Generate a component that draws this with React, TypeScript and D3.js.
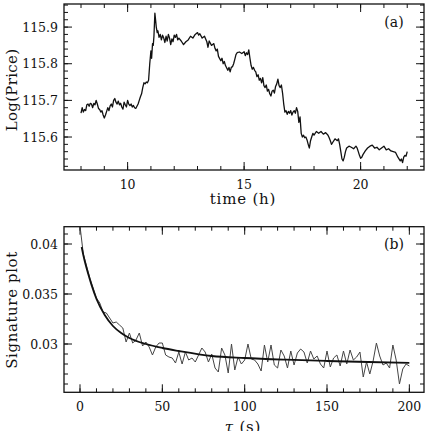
import * as d3 from 'd3'

// panel (a): intraday log-price, [time (h), log price]
const priceSeries: [number, number][] = [
  [8.0, 115.665], [8.05, 115.68], [8.1, 115.668], [8.15, 115.675], [8.2, 115.672], [8.25, 115.688],
  [8.3, 115.69], [8.35, 115.684], [8.4, 115.692], [8.45, 115.69], [8.5, 115.68], [8.55, 115.692],
  [8.6, 115.688], [8.65, 115.7], [8.7, 115.69], [8.75, 115.678], [8.8, 115.675], [8.85, 115.668],
  [8.9, 115.672], [8.95, 115.66], [9.0, 115.652], [9.05, 115.66], [9.1, 115.67], [9.15, 115.68],
  [9.2, 115.672], [9.25, 115.685], [9.3, 115.69], [9.35, 115.682], [9.4, 115.7], [9.45, 115.705],
  [9.5, 115.695], [9.55, 115.69], [9.6, 115.698], [9.65, 115.688], [9.7, 115.692], [9.75, 115.682],
  [9.8, 115.676], [9.85, 115.695], [9.9, 115.688], [9.95, 115.682], [10.0, 115.7], [10.05, 115.69],
  [10.1, 115.686], [10.15, 115.69], [10.2, 115.682], [10.25, 115.686], [10.3, 115.68], [10.35, 115.678],
  [10.4, 115.684], [10.45, 115.69], [10.5, 115.7], [10.55, 115.71], [10.6, 115.718], [10.65, 115.735],
  [10.7, 115.748], [10.75, 115.745], [10.8, 115.75], [10.85, 115.748], [10.9, 115.755], [10.95, 115.8],
  [11.0, 115.835], [11.03, 115.815], [11.07, 115.855], [11.1, 115.85], [11.13, 115.875], [11.17, 115.938],
  [11.2, 115.92], [11.23, 115.9], [11.27, 115.885], [11.3, 115.89], [11.35, 115.872], [11.4, 115.88],
  [11.45, 115.865], [11.5, 115.878], [11.55, 115.87], [11.6, 115.858], [11.65, 115.875], [11.7, 115.862],
  [11.75, 115.88], [11.8, 115.87], [11.85, 115.852], [11.9, 115.868], [11.95, 115.86], [12.0, 115.878],
  [12.05, 115.872], [12.1, 115.88], [12.15, 115.865], [12.2, 115.87], [12.3, 115.862], [12.4, 115.852],
  [12.5, 115.86], [12.6, 115.865], [12.7, 115.875], [12.8, 115.87], [12.9, 115.88], [13.0, 115.885],
  [13.05, 115.878], [13.1, 115.882], [13.2, 115.87], [13.3, 115.875], [13.4, 115.86], [13.45, 115.845],
  [13.5, 115.862], [13.6, 115.85], [13.7, 115.855], [13.75, 115.842], [13.8, 115.835], [13.85, 115.84],
  [13.9, 115.82], [14.0, 115.808], [14.05, 115.815], [14.1, 115.8], [14.15, 115.806], [14.2, 115.795],
  [14.3, 115.782], [14.35, 115.79], [14.4, 115.778], [14.45, 115.79], [14.5, 115.792], [14.55, 115.8],
  [14.6, 115.812], [14.65, 115.825], [14.7, 115.83], [14.8, 115.832], [14.9, 115.828], [15.0, 115.833],
  [15.05, 115.822], [15.1, 115.83], [15.15, 115.825], [15.2, 115.838], [15.25, 115.815], [15.3, 115.795],
  [15.35, 115.785], [15.4, 115.79], [15.45, 115.782], [15.5, 115.778], [15.55, 115.765], [15.6, 115.77],
  [15.65, 115.755], [15.7, 115.76], [15.75, 115.748], [15.8, 115.762], [15.85, 115.74], [15.9, 115.735],
  [15.95, 115.742], [16.0, 115.725], [16.05, 115.73], [16.1, 115.718], [16.15, 115.712], [16.2, 115.725],
  [16.25, 115.728], [16.3, 115.72], [16.35, 115.738], [16.4, 115.745], [16.45, 115.758], [16.5, 115.74],
  [16.55, 115.735], [16.6, 115.742], [16.65, 115.72], [16.7, 115.69], [16.75, 115.668], [16.8, 115.672],
  [16.85, 115.662], [16.9, 115.67], [16.95, 115.665], [17.0, 115.672], [17.05, 115.66], [17.1, 115.668],
  [17.15, 115.672], [17.2, 115.665], [17.25, 115.68], [17.3, 115.67], [17.35, 115.64], [17.4, 115.655],
  [17.45, 115.61], [17.5, 115.6], [17.55, 115.605], [17.6, 115.598], [17.65, 115.6], [17.7, 115.592],
  [17.75, 115.58], [17.8, 115.57], [17.85, 115.59], [17.9, 115.6], [17.95, 115.61], [18.0, 115.605],
  [18.1, 115.615], [18.2, 115.61], [18.3, 115.615], [18.4, 115.608], [18.5, 115.612], [18.6, 115.605],
  [18.65, 115.598], [18.7, 115.59], [18.75, 115.58], [18.8, 115.585], [18.9, 115.595], [19.0, 115.59],
  [19.05, 115.595], [19.1, 115.58], [19.15, 115.56], [19.2, 115.54], [19.25, 115.535], [19.3, 115.545],
  [19.35, 115.56], [19.4, 115.57], [19.5, 115.575], [19.6, 115.572], [19.7, 115.568], [19.8, 115.575],
  [19.85, 115.57], [19.9, 115.56], [19.95, 115.55], [20.0, 115.542], [20.05, 115.545], [20.1, 115.552],
  [20.2, 115.562], [20.3, 115.57], [20.4, 115.575], [20.5, 115.578], [20.6, 115.57], [20.7, 115.572],
  [20.8, 115.565], [20.9, 115.57], [21.0, 115.575], [21.1, 115.565], [21.2, 115.568], [21.3, 115.562],
  [21.4, 115.56], [21.5, 115.558], [21.6, 115.545], [21.7, 115.535], [21.75, 115.54], [21.8, 115.53],
  [21.85, 115.545], [21.9, 115.55], [21.95, 115.548], [22.0, 115.56],
]

// panel (b): signature plot, lag tau (s) and measured value
const tauLags = [
  0, 2, 4, 6, 8, 10, 12, 14, 16, 18, 20, 22, 24, 26, 28, 30, 32, 34, 36, 38, 40, 42, 44, 46, 48, 50,
  52, 54, 56, 58, 60, 62, 64, 66, 68, 70, 72, 74, 76, 78, 80, 82, 84, 86, 88, 90, 92, 94, 96, 98, 100,
  102, 104, 106, 108, 110, 112, 114, 116, 118, 120, 122, 124, 126, 128, 130, 132, 134, 136, 138, 140,
  142, 144, 146, 148, 150, 152, 154, 156, 158, 160, 162, 164, 166, 168, 170, 172, 174, 176, 178, 180,
  182, 184, 186, 188, 190, 192, 194, 196, 198, 200,
]
const signatureValues = [
  0.0418, 0.039, 0.0378, 0.0366, 0.0356, 0.0346, 0.0341, 0.0332, 0.0331, 0.0326, 0.0321, 0.0322,
  0.0319, 0.0316, 0.0302, 0.0311, 0.0301, 0.0304, 0.0311, 0.0298, 0.0302, 0.0297, 0.0289, 0.0297,
  0.0301, 0.0301, 0.0289, 0.0287, 0.0286, 0.0281, 0.0292, 0.028, 0.0292, 0.0284, 0.0286, 0.0282,
  0.0289, 0.0296, 0.0292, 0.0282, 0.029, 0.0276, 0.0272, 0.0296, 0.0289, 0.0271, 0.03, 0.0274,
  0.0287, 0.028, 0.0284, 0.03, 0.0285, 0.0284, 0.028, 0.0273, 0.0299, 0.0282, 0.0299, 0.0279,
  0.0276, 0.0294, 0.0288, 0.0276, 0.0293, 0.0279, 0.0291, 0.0295, 0.0292, 0.0281, 0.0293, 0.0285,
  0.0288, 0.028, 0.0276, 0.0293, 0.0277, 0.0286, 0.0289, 0.0278, 0.0293, 0.028, 0.0294, 0.0284,
  0.0287, 0.0292, 0.0267, 0.0282, 0.027, 0.0283, 0.0301, 0.0288, 0.0279, 0.0281, 0.0276, 0.0299,
  0.0284, 0.026, 0.0275, 0.028, 0.0278,
]
// fitted curve
const fitTau = [1, 2, 3, 5, 7, 10, 15, 20, 25, 30, 40, 50, 60, 80, 100, 125, 150, 175, 200]
const fitValues = [
  0.0397, 0.0389, 0.0382, 0.037, 0.0359, 0.0345, 0.0329, 0.0318, 0.0311, 0.0306, 0.03, 0.0296,
  0.0293, 0.0288, 0.0286, 0.02843, 0.0283, 0.0282, 0.02812,
]

const timeMajor = [10, 15, 20]
const timeMinor = d3.range(8, 23)
const priceMajor = [115.6, 115.7, 115.8, 115.9]
const priceMinor = d3.range(115.52, 115.97, 0.02)
const tauMajor = [0, 50, 100, 150, 200]
const tauMinor = d3.range(0, 210, 10)
const sigMajor = [0.03, 0.035, 0.04]
const sigMinor = d3.range(0.026, 0.0417, 0.001)

const W = 428
const H = 431
const L = 64
const R = 424
const FONT = "'DejaVu Serif', 'Liberation Serif', serif"

type FrameProps = {
  x: d3.ScaleLinear<number, number>
  y: d3.ScaleLinear<number, number>
  top: number
  bottom: number
  xMajor: number[]
  xMinor: number[]
  yMajor: number[]
  yMinor: number[]
  xFmt: (v: number) => string
  yFmt: (v: number) => string
}

const Frame = ({ x, y, top, bottom, xMajor, xMinor, yMajor, yMinor, xFmt, yFmt }: FrameProps) => {
  const maj = 8
  const min = 4
  const inX = (v: number) => v >= x.domain()[0] && v <= x.domain()[1]
  const inY = (v: number) => v >= y.domain()[0] && v <= y.domain()[1]
  return (
    <g stroke="#111" strokeWidth={1}>
      {xMinor.filter(inX).map((v) => (
        <g key={'xm' + v}>
          <line x1={x(v)} x2={x(v)} y1={bottom} y2={bottom - min} />
          <line x1={x(v)} x2={x(v)} y1={top} y2={top + min} />
        </g>
      ))}
      {xMajor.map((v) => (
        <g key={'xM' + v}>
          <line x1={x(v)} x2={x(v)} y1={bottom} y2={bottom - maj} />
          <line x1={x(v)} x2={x(v)} y1={top} y2={top + maj} />
          <text x={x(v)} y={bottom + 18.5} textAnchor="middle" stroke="none" fill="#111"
            fontFamily={FONT} fontSize={12.5}>{xFmt(v)}</text>
        </g>
      ))}
      {yMinor.filter(inY).map((v) => (
        <g key={'ym' + v}>
          <line x1={L} x2={L + min} y1={y(v)} y2={y(v)} />
          <line x1={R} x2={R - min} y1={y(v)} y2={y(v)} />
        </g>
      ))}
      {yMajor.map((v) => (
        <g key={'yM' + v}>
          <line x1={L} x2={L + maj} y1={y(v)} y2={y(v)} />
          <line x1={R} x2={R - maj} y1={y(v)} y2={y(v)} />
          <text x={L - 6} y={y(v) + 4.5} textAnchor="end" stroke="none" fill="#111"
            fontFamily={FONT} fontSize={12.5}>{yFmt(v)}</text>
        </g>
      ))}
      <rect x={L} y={top} width={R - L} height={bottom - top} fill="none" strokeWidth={1.3} />
    </g>
  )
}

export default function App() {
  // panel (a)
  const aTop = 4
  const aBottom = 170
  const xa = d3.scaleLinear().domain([7.27, 22.72]).range([L, R])
  const ya = d3.scaleLinear().domain([115.51, 115.963]).range([aBottom, aTop])
  const priceLine = d3
    .line<[number, number]>()
    .x((d) => xa(d[0]))
    .y((d) => ya(d[1]))

  // panel (b)
  const bTop = 226.7
  const bBottom = 392.3
  const xb = d3.scaleLinear().domain([-9.72, 208.9]).range([L, R])
  const yb = d3.scaleLinear().domain([0.02517, 0.04173]).range([bBottom, bTop])
  const sigLine = d3
    .line<number>()
    .x((_, i) => xb(tauLags[i]))
    .y((d) => yb(d))
  const fitLine = d3
    .line<number>()
    .x((_, i) => xb(fitTau[i]))
    .y((d) => yb(d))
    .curve(d3.curveMonotoneX)

  return (
    <svg width={W} height={H} style={{ position: 'absolute', left: 0, top: 0, background: '#fff' }}>
      <defs>
        <clipPath id="clipA">
          <rect x={L} y={aTop} width={R - L} height={aBottom - aTop} />
        </clipPath>
        <clipPath id="clipB">
          <rect x={L} y={bTop} width={R - L} height={bBottom - bTop} />
        </clipPath>
      </defs>

      <Frame x={xa} y={ya} top={aTop} bottom={aBottom}
        xMajor={timeMajor} xMinor={timeMinor} yMajor={priceMajor} yMinor={priceMinor}
        xFmt={(v) => String(v)} yFmt={(v) => v.toFixed(1)} />
      <path d={priceLine(priceSeries) ?? ''} fill="none" stroke="#111" strokeWidth={1.3}
        strokeLinejoin="round" clipPath="url(#clipA)" />
      <text x={394} y={27} textAnchor="middle" fontFamily={FONT} fontSize={14} fill="#111">(a)</text>
      <text x={243} y={204} textAnchor="middle" fontFamily={FONT} fontSize={15} fill="#111"
        letterSpacing={0.8}>time (h)</text>
      <text transform={`translate(17,90) rotate(-90)`} textAnchor="middle" fontFamily={FONT}
        fontSize={15} fill="#111" letterSpacing={0.3}>Log(Price)</text>

      <Frame x={xb} y={yb} top={bTop} bottom={bBottom}
        xMajor={tauMajor} xMinor={tauMinor} yMajor={sigMajor} yMinor={sigMinor}
        xFmt={(v) => String(v)} yFmt={(v) => String(+v.toFixed(3))} />
      <g clipPath="url(#clipB)">
        <path d={sigLine(signatureValues) ?? ''} fill="none" stroke="#444" strokeWidth={1} />
        <path d={fitLine(fitValues) ?? ''} fill="none" stroke="#111" strokeWidth={1.8} />
      </g>
      <text x={394} y={249} textAnchor="middle" fontFamily={FONT} fontSize={14} fill="#111">(b)</text>
      <text x={243} y={432} textAnchor="middle" fontFamily={FONT} fontSize={15} fill="#111"
        fontStyle="italic" letterSpacing={0.8}>τ <tspan fontStyle="normal">(s)</tspan></text>
      <text transform={`translate(17,310) rotate(-90)`} textAnchor="middle" fontFamily={FONT}
        fontSize={15} fill="#111" letterSpacing={0.6}>Signature plot</text>
    </svg>
  )
}
